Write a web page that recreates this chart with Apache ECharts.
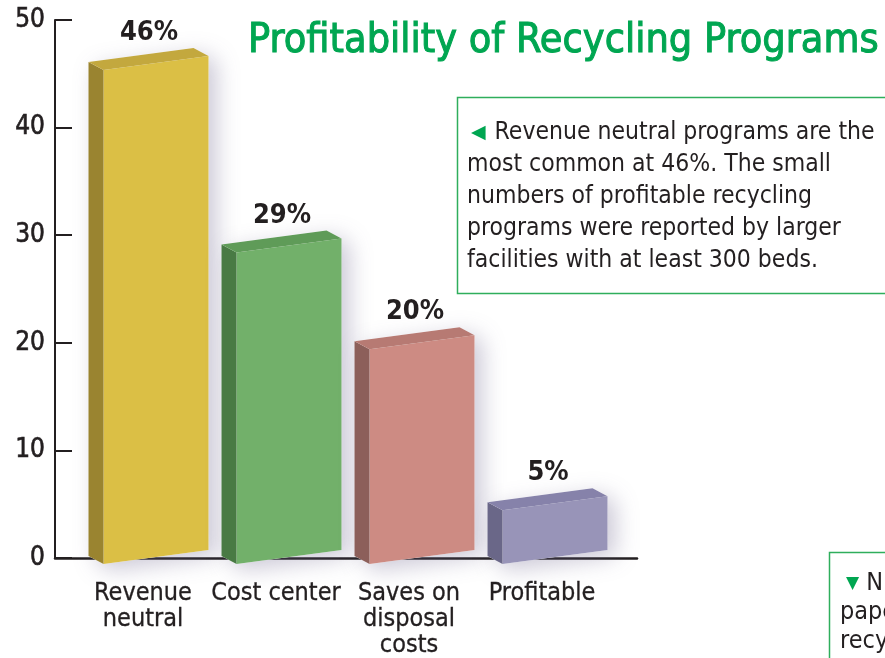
<!DOCTYPE html>
<html>
<head>
<meta charset="utf-8">
<script src="https://cdn.jsdelivr.net/npm/echarts@6/dist/echarts.min.js"></script>
<style>
  html, body { margin: 0; padding: 0; background: #fff; }
  #chart { width: 885px; height: 658px; }
</style>
</head>
<body>
<div id="chart"></div>
<script>
var categories = ['Revenue\nneutral', 'Cost center', 'Saves on\ndisposal\ncosts', 'Profitable'];
var shares = [46, 29, 20, 5];
var shareLabels = ['46%', '29%', '20%', '5%'];
var noteLines = [
  'Revenue neutral programs are the',
  'most common at 46%. The small',
  'numbers of profitable recycling',
  'programs were reported by larger',
  'facilities with at least 300 beds.'
];
var sideNoteLines = ['N', 'paper', 'recycling'];

// front / side / top colour of each bar
var palette = [
  ['#dbbf45', '#9a8430', '#c3a83e'],
  ['#72b06a', '#497a44', '#5f9b58'],
  ['#cd8b83', '#8c5f5a', '#b77a73'],
  ['#9894b8', '#6a6788', '#8682aa']
];

var FONT = '"Liberation Sans Narrow", "DejaVu Sans Condensed", "Liberation Sans", sans-serif';
var TEXT = '#231f20';

var chart = echarts.init(document.getElementById('chart'));

function renderBar(params, api) {
  var idx = params.dataIndex;
  var v = api.value(1);
  var top = api.coord([api.value(0), v]);
  var base = api.coord([api.value(0), 0]);
  var cx = top[0] + 13;       // front face sits a bit right of the label
  var hw = 52.5, dx = 15, dy = 8, tilt = 7;
  var xl = cx - hw, xr = cx + hw;
  var flt = [xl, top[1] + tilt], frt = [xr, top[1] - tilt];
  var flb = [xl, base[1] + tilt], frb = [xr, base[1] - tilt];
  var c = palette[idx];
  return {
    type: 'group',
    children: [
      {
        type: 'polygon',
        shape: { points: [[xl - dx, flt[1] - dy], [xr - dx, frt[1] - dy], frt, frb, flb, [xl - dx, flb[1] - dy]] },
        style: { fill: '#fff', shadowBlur: 22, shadowColor: 'rgba(110,100,140,0.35)', shadowOffsetX: 8, shadowOffsetY: 6 }
      },
      {
        type: 'polygon',
        shape: { points: [flt, frt, frb, flb] },
        style: { fill: c[0] }
      },
      {
        type: 'polygon',
        shape: { points: [[xl - dx, flt[1] - dy], flt, flb, [xl - dx, flb[1] - dy]] },
        style: { fill: c[1] }
      },
      {
        type: 'polygon',
        shape: { points: [[xl - dx, flt[1] - dy], [xr - dx, frt[1] - dy], frt, flt] },
        style: { fill: c[2] }
      },
      {
        type: 'text',
        style: {
          text: shareLabels[idx],
          x: cx - 7,
          y: top[1] - 30,
          align: 'center',
          verticalAlign: 'middle',
          fontFamily: FONT,
          fontWeight: 'bold',
          fontSize: 27,
          fill: TEXT
        }
      }
    ]
  };
}

var option = {
  animation: false,
  title: {
    text: 'Profitability of Recycling Programs',
    left: 243,
    top: 16,
    textStyle: {
      fontFamily: FONT, fontSize: 41, fontWeight: 'normal', color: '#00a651',
      textBorderColor: '#00a651', textBorderWidth: 1
    }
  },
  grid: [
    { left: 55, right: 248, top: 20, bottom: 100 },
    { left: 76.5, right: 276.5, top: 20, bottom: 100 }
  ],
  xAxis: [
    {
      gridIndex: 0, type: 'value', min: 0, max: 1,
      axisLine: { show: true, lineStyle: { color: TEXT, width: 2.5 } },
      axisTick: { show: false }, axisLabel: { show: false }, splitLine: { show: false }
    },
    {
      gridIndex: 1, type: 'category', data: categories,
      axisLine: { show: false }, axisTick: { show: false },
      axisLabel: {
        fontFamily: FONT, fontSize: 25, lineHeight: 26, color: TEXT, margin: 23, interval: 0,
        textBorderColor: TEXT, textBorderWidth: 0.3
      }
    }
  ],
  yAxis: [
    {
      gridIndex: 0, type: 'value', min: 0, max: 50, interval: 10,
      axisLine: { show: true, lineStyle: { color: TEXT, width: 2 } },
      axisTick: { show: true, inside: true, length: 17, lineStyle: { color: TEXT, width: 2 } },
      axisLabel: {
        fontFamily: FONT, fontSize: 26, color: TEXT, margin: 10,
        textBorderColor: TEXT, textBorderWidth: 0.6
      },
      splitLine: { show: false }
    },
    {
      gridIndex: 1, type: 'value', min: 0, max: 50, show: false
    }
  ],
  graphic: [
    {
      type: 'rect',
      shape: { x: 457.5, y: 97.5, width: 460, height: 196 },
      style: { fill: '#fff', stroke: '#2fae5c', lineWidth: 1.5 }
    },
    {
      type: 'text',
      x: 467, y: 117,
      style: {
        text: '{tri|\u25C0} ' + noteLines.join('\n'),
        fontFamily: FONT, fontSize: 24.5, lineHeight: 32, fill: TEXT,
        rich: { tri: { fontFamily: 'DejaVu Sans', fontSize: 19, fill: '#00a651', padding: [0, 2, 0, 4] } }
      }
    },
    {
      type: 'rect',
      shape: { x: 829.5, y: 552.5, width: 80, height: 120 },
      style: { fill: '#fff', stroke: '#2fae5c', lineWidth: 1.5 }
    },
    {
      type: 'text',
      x: 840, y: 569,
      style: {
        text: '{tri|\u25BC} ' + sideNoteLines.join('\n'),
        fontFamily: FONT, fontSize: 25, lineHeight: 29, fill: TEXT,
        rich: { tri: { fontFamily: 'DejaVu Sans', fontSize: 17, fill: '#00a651', padding: [0, 0, 0, 6] } }
      }
    }
  ],
  series: [
    {
      type: 'custom',
      xAxisIndex: 1,
      yAxisIndex: 1,
      renderItem: renderBar,
      data: shares.map(function (v, i) { return [i, v]; }),
      clip: false,
      z: 3
    }
  ]
};

chart.setOption(option);
</script>
</body>
</html>
